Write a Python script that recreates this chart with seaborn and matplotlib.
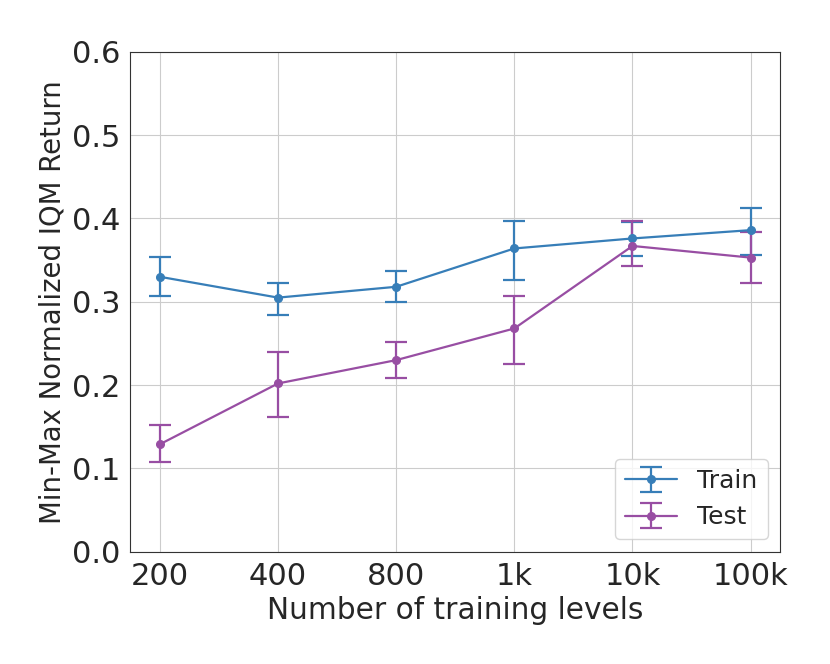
import numpy as np
import matplotlib
matplotlib.use("Agg")
import matplotlib.pyplot as plt
import seaborn as sns

levels = ["200", "400", "800", "1k", "10k", "100k"]

train_mean = [0.330, 0.305, 0.318, 0.364, 0.376, 0.386]
train_low = [0.307, 0.284, 0.300, 0.326, 0.355, 0.356]
train_high = [0.354, 0.323, 0.337, 0.397, 0.396, 0.412]

test_mean = [0.129, 0.202, 0.230, 0.268, 0.367, 0.353]
test_low = [0.108, 0.162, 0.208, 0.225, 0.343, 0.322]
test_high = [0.152, 0.240, 0.252, 0.307, 0.397, 0.384]

sns.set_style("whitegrid", {"axes.edgecolor": "0.2"})
colors = sns.color_palette("Set1")

fig, ax = plt.subplots(figsize=(8.3, 6.64), dpi=100)
fig.subplots_adjust(left=0.157, right=0.94, top=0.922, bottom=0.169)

x = np.arange(len(levels))
for mean, lo, hi, col, name in [
    (train_mean, train_low, train_high, colors[1], "Train"),
    (test_mean, test_low, test_high, colors[3], "Test"),
]:
    mean = np.array(mean)
    yerr = [mean - np.array(lo), np.array(hi) - mean]
    ax.errorbar(x, mean, yerr=yerr, color=col, marker="o", markersize=5.5,
                linewidth=1.6, elinewidth=1.6, capsize=8, capthick=1.6, label=name)

ax.set_xticks(x)
ax.set_xticklabels(levels)
ax.set_ylim(0, 0.6)
ax.set_yticks(np.arange(0, 0.61, 0.1))
ax.tick_params(labelsize=22)
ax.set_xlabel("Number of training levels", fontsize=21.3)
ax.set_ylabel("Min-Max Normalized IQM Return", fontsize=19.8)
ax.legend(loc="lower right", fontsize=18, handlelength=2.1)

fig.savefig("out.png", dpi=100)
